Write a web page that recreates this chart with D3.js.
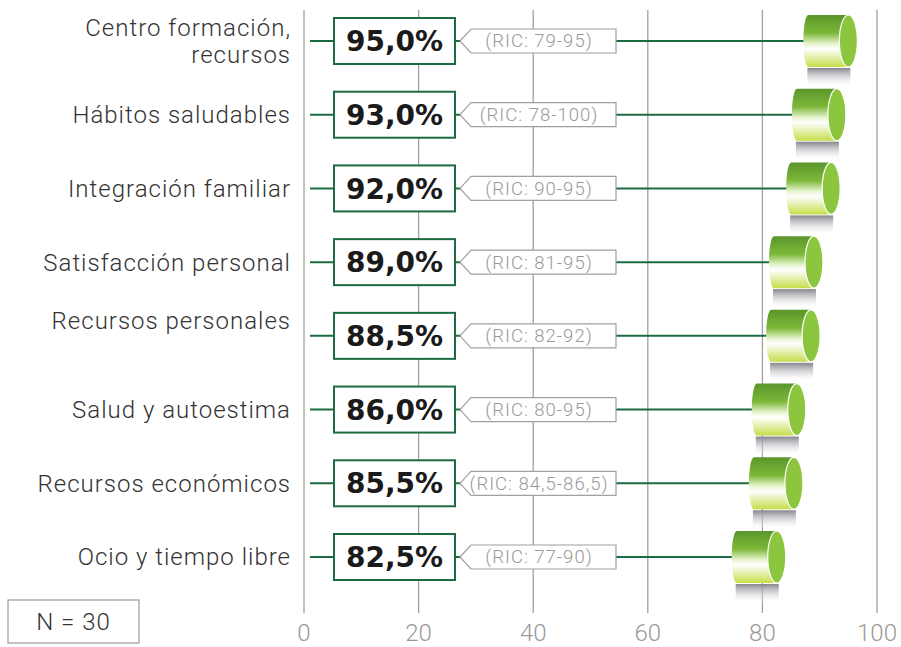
<!DOCTYPE html>
<html lang="es">
<head>
  <meta charset="UTF-8">
  <title>Dimensiones</title>
  <script src="https://d3js.org/d3.v7.min.js"></script>
  <style>
    body { margin: 0; background: #fff; }
    svg { display: block; font-family: 'Roboto', 'Liberation Sans', sans-serif; }
    .cat { font-size: 24px; font-weight: 300; fill: #333; letter-spacing: 1px; }
    .val { font-family: 'DejaVu Sans', sans-serif; font-size: 28px; font-weight: bold; fill: #1a1a1a; }
    .ric { font-size: 18.5px; font-weight: 300; fill: #9a9a9a; letter-spacing: 1px; }
    .tick-label { font-size: 24px; font-weight: 300; fill: #9a9a9a; }
  </style>
</head>
<body>
  <svg width="901" height="647"></svg>

  <script>
    // data
    const categories = [
      "Centro formación, recursos",
      "Hábitos saludables",
      "Integración familiar",
      "Satisfacción personal",
      "Recursos personales",
      "Salud y autoestima",
      "Recursos económicos",
      "Ocio y tiempo libre"
    ];
    const labelLines = [
      ["Centro formación,", "recursos"],
      ["Hábitos saludables"],
      ["Integración familiar"],
      ["Satisfacción personal"],
      ["Recursos personales"],
      ["Salud y autoestima"],
      ["Recursos económicos"],
      ["Ocio y tiempo libre"]
    ];
    const values = [95.0, 93.0, 92.0, 89.0, 88.5, 86.0, 85.5, 82.5];
    const ric = ["79-95", "78-100", "90-95", "81-95", "82-92", "80-95", "84,5-86,5", "77-90"];
    const xTicks = [0, 20, 40, 60, 80, 100];
    const nText = "N = 30";

    const svg = d3.select("svg");
    const green = "#1d6b40";

    const x = d3.scaleLinear().domain([0, 100]).range([304, 877]);
    const y = d3.scalePoint().domain(categories).range([41, 557]);

    const defs = svg.append("defs");
    const body = defs.append("linearGradient").attr("id", "cylBody")
      .attr("x1", 0).attr("y1", 0).attr("x2", 0).attr("y2", 1);
    body.append("stop").attr("offset", "0%").attr("stop-color", "#5a962a");
    body.append("stop").attr("offset", "35%").attr("stop-color", "#7db83a");
    body.append("stop").attr("offset", "55%").attr("stop-color", "#e6f3cc");
    body.append("stop").attr("offset", "65%").attr("stop-color", "#ffffff");
    body.append("stop").attr("offset", "100%").attr("stop-color", "#c5dd4a");

    const shadow = defs.append("linearGradient").attr("id", "cylShadow")
      .attr("x1", 0).attr("y1", 0).attr("x2", 0).attr("y2", 1);
    shadow.append("stop").attr("offset", "0%").attr("stop-color", "#85858e");
    shadow.append("stop").attr("offset", "100%").attr("stop-color", "#ffffff").attr("stop-opacity", 0.2);

    // grid lines
    svg.append("g").selectAll("line")
      .data(xTicks)
      .join("line")
      .attr("x1", d => x(d)).attr("x2", d => x(d))
      .attr("y1", 10).attr("y2", 613)
      .attr("stroke", "#a0a0a0")
      .attr("stroke-width", 1.3);

    svg.append("g").selectAll("text")
      .data(xTicks)
      .join("text")
      .attr("class", "tick-label")
      .attr("x", d => x(d))
      .attr("y", 641)
      .attr("text-anchor", "middle")
      .text(d => d);

    const rows = svg.append("g").selectAll("g")
      .data(categories.map((c, i) => ({ c, i, v: values[i], r: ric[i], lines: labelLines[i] })))
      .join("g")
      .attr("transform", d => `translate(0,${y(d.c)})`);

    // green connector line
    rows.append("line")
      .attr("x1", 310).attr("x2", d => x(d.v) - 40)
      .attr("y1", 0).attr("y2", 0)
      .attr("stroke", green).attr("stroke-width", 2);

    // category labels ("Recursos personales" sits a bit higher in the original)
    rows.append("text")
      .attr("class", "cat")
      .attr("text-anchor", "end")
      .attr("x", 291)
      .selectAll("tspan")
      .data(d => d.lines.map((t, k) => ({ t, k, n: d.lines.length, i: d.i })))
      .join("tspan")
      .attr("x", 291)
      .attr("y", d => (d.k - (d.n - 1) / 2) * 27 + (d.i === 4 ? -15 : 0))
      .attr("dy", "0.35em")
      .text(d => d.t);

    // value box
    rows.append("rect")
      .attr("x", 334).attr("y", -23)
      .attr("width", 121).attr("height", 46)
      .attr("fill", "#fff")
      .attr("stroke", green).attr("stroke-width", 2);
    rows.append("text")
      .attr("class", "val")
      .attr("x", 394.5).attr("y", 0).attr("dy", "0.36em")
      .attr("text-anchor", "middle")
      .text(d => d3.format(".1f")(d.v).replace(".", ",") + "%");

    // RIC tag
    rows.append("path")
      .attr("d", "M460,0 L471,-12 L616,-12 L616,12 L471,12 Z")
      .attr("fill", "#fff")
      .attr("stroke", "#a0a0a0").attr("stroke-width", 1.2);
    rows.append("text")
      .attr("class", "ric")
      .attr("x", 539).attr("y", 0).attr("dy", "0.35em")
      .attr("text-anchor", "middle")
      .text(d => `(RIC: ${d.r})`);

    // cylinders
    const ry = 26, rx = 9, len = 40;
    rows.append("rect")
      .attr("x", d => x(d.v) - len - 1)
      .attr("y", ry + 1)
      .attr("width", len + 3)
      .attr("height", 18)
      .attr("fill", "url(#cylShadow)");
    rows.append("path")
      .attr("d", d => {
        const cx = x(d.v);
        return `M${cx - len},${-ry} L${cx},${-ry} L${cx},${ry} L${cx - len},${ry} A5,${ry} 0 0 1 ${cx - len},${-ry} Z`;
      })
      .attr("fill", "url(#cylBody)");
    rows.append("ellipse")
      .attr("cx", d => x(d.v))
      .attr("cy", 0)
      .attr("rx", rx).attr("ry", ry)
      .attr("fill", "#8cc63f")
      .attr("stroke", "#fff").attr("stroke-width", 1.2);

    // N box
    svg.append("rect")
      .attr("x", 8).attr("y", 600)
      .attr("width", 131).attr("height", 43)
      .attr("fill", "#fff")
      .attr("stroke", "#999").attr("stroke-width", 1.2);
    svg.append("text")
      .attr("class", "cat")
      .attr("x", 73.5).attr("y", 621.5).attr("dy", "0.35em")
      .attr("text-anchor", "middle")
      .text(nText);
  </script>
</body>
</html>
